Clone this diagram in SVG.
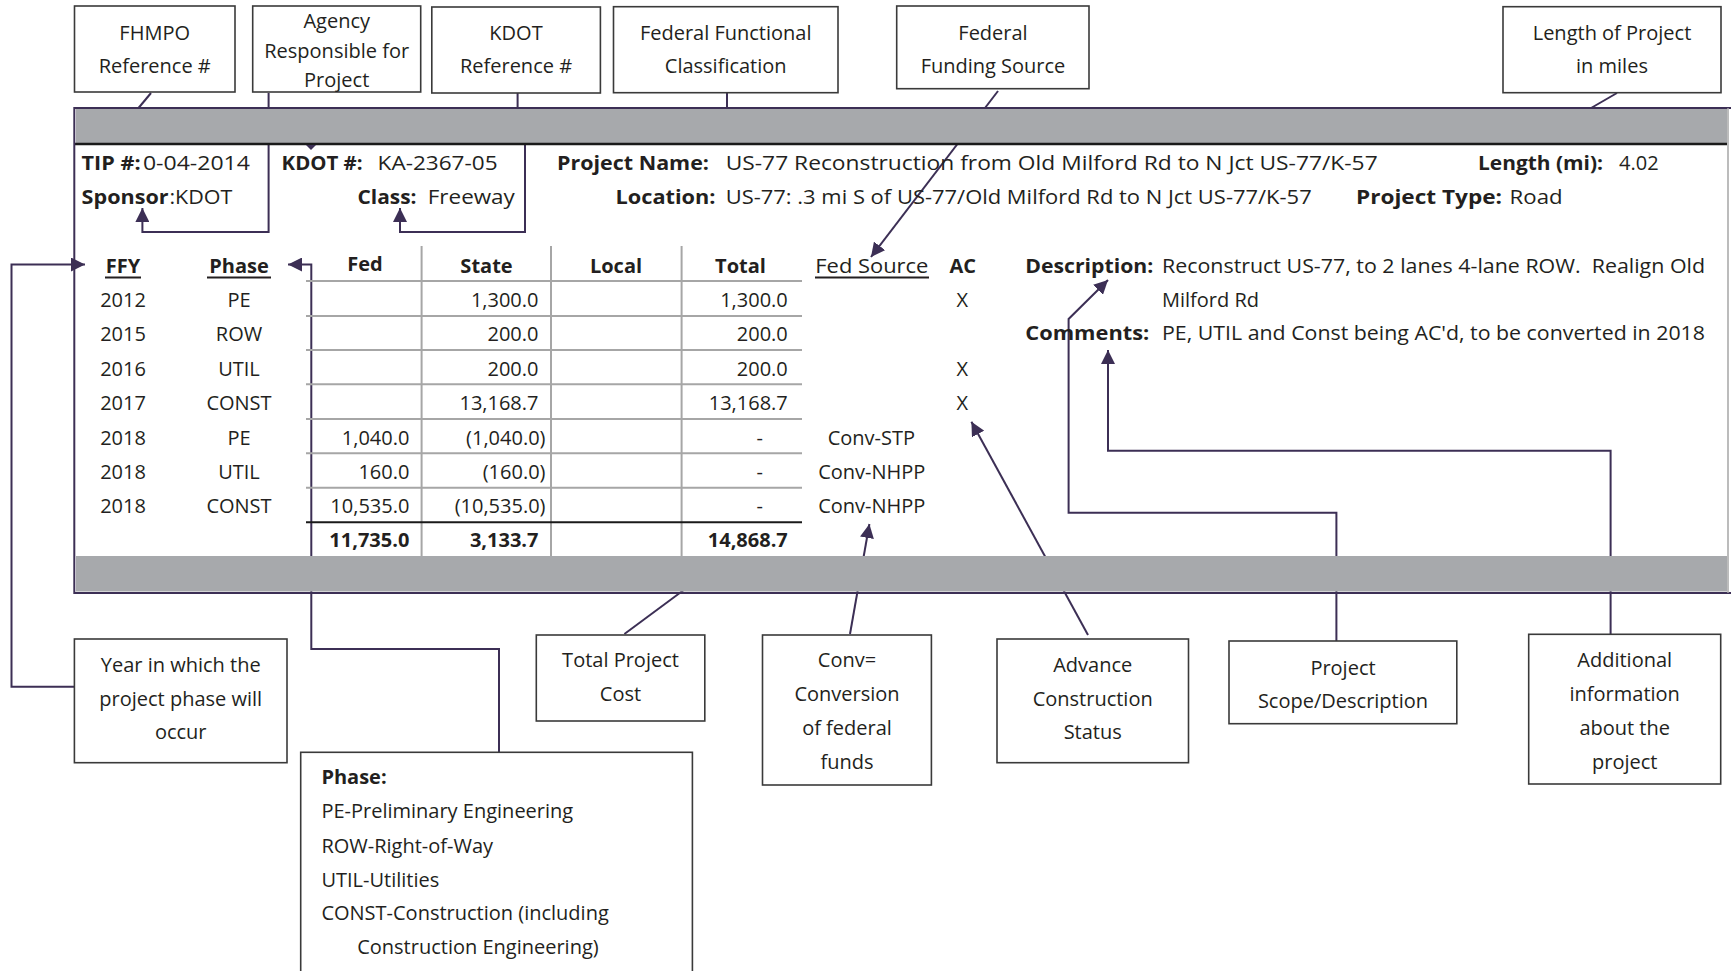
<svg xmlns="http://www.w3.org/2000/svg" width="1731" height="971" viewBox="0 0 1731 971">
<defs>
<style>
text{font-family:"Open Sans","Noto Sans","Liberation Sans",sans-serif;font-size:20px;fill:#231f20}
.b{font-weight:700}
.c{text-anchor:middle}
.r{text-anchor:end}
.box{fill:#fff;stroke:#3a3a3a;stroke-width:1.6}
.con{fill:none;stroke:#3c2f55;stroke-width:2}
.grid{stroke:#a6a6a6;stroke-width:2}
.ul{stroke:#231f20;stroke-width:2}
</style>
<marker id="arr" viewBox="0 0 12 12" refX="12" refY="6" markerWidth="14" markerHeight="14" markerUnits="userSpaceOnUse" orient="auto">
<path d="M0,0 L12,6 L0,12 z" fill="#3c2f55"/>
</marker>
</defs>
<rect width="1731" height="971" fill="#fff"/>

<g id="frame">
<rect x="74.3" y="108" width="1653.7" height="485" fill="#fff"/>
</g>

<g id="connectors">
<path class="con" d="M151,93 L136,111"/>
<path class="con" d="M268.6,93 V232 H142.4 V208" marker-end="url(#arr)"/>
<path class="con" d="M517.6,93 V126 H525 V232 H400 V208" marker-end="url(#arr)"/>
<path class="con" d="M727,93 V126"/>
<path class="con" d="M998,91 L871,257" marker-end="url(#arr)"/>
<path class="con" d="M1617,93 L1560,126"/>
<path class="con" d="M74.4,686.7 H11.5 V264.5 H85" marker-end="url(#arr)"/>
<path class="con" d="M499,752 V649 H311.3 V264.5 H288" marker-end="url(#arr)"/>
<path class="con" d="M624.4,634 L700,578"/>
<path class="con" d="M850,634 L869.4,524" marker-end="url(#arr)"/>
<path class="con" d="M1088,635 L971.4,421.7" marker-end="url(#arr)"/>
<path class="con" d="M1336.4,641 V512.7 H1068.6 V319 L1108,280" marker-end="url(#arr)"/>
<path class="con" d="M1610.6,634 V450.7 H1108 V350" marker-end="url(#arr)"/>
</g>

<g id="bands">
<rect x="76" y="109" width="1651" height="34" fill="#a7a9ac"/>
<rect x="76" y="556" width="1651" height="35.5" fill="#a7a9ac"/>
<line x1="75" y1="144" x2="1727" y2="144" stroke="#1a1a1a" stroke-width="2.5"/>
<line x1="74.3" y1="108" x2="1731" y2="108" stroke="#3c2f55" stroke-width="2"/>
<line x1="74.3" y1="593" x2="1731" y2="593" stroke="#3c2f55" stroke-width="2"/>
<line x1="74.3" y1="107" x2="74.3" y2="594" stroke="#3c2f55" stroke-width="2"/>
<line x1="1728" y1="108" x2="1728" y2="593" stroke="#a6a6a6" stroke-width="1.5"/>
<polygon points="306,145 316,145 311,150" fill="#3c2f55"/>
</g>

<g id="header">
<text class="b" x="81.6" y="170" textLength="59" lengthAdjust="spacingAndGlyphs">TIP #:</text>
<text x="142.9" y="170" textLength="107" lengthAdjust="spacingAndGlyphs">0-04-2014</text>
<text class="b" x="81.6" y="204" textLength="87" lengthAdjust="spacingAndGlyphs">Sponsor</text>
<text x="169.4" y="204" textLength="63" lengthAdjust="spacingAndGlyphs">:KDOT</text>
<text class="b" x="281.6" y="170" textLength="81" lengthAdjust="spacingAndGlyphs">KDOT #:</text>
<text x="377.6" y="170" textLength="120" lengthAdjust="spacingAndGlyphs">KA-2367-05</text>
<text class="b" x="357.5" y="204" textLength="59" lengthAdjust="spacingAndGlyphs">Class:</text>
<text x="427.8" y="204" textLength="87" lengthAdjust="spacingAndGlyphs">Freeway</text>
<text class="b" x="557" y="170" textLength="152" lengthAdjust="spacingAndGlyphs">Project Name:</text>
<text x="725.7" y="170" textLength="652" lengthAdjust="spacingAndGlyphs">US-77 Reconstruction from Old Milford Rd to N Jct US-77/K-57</text>
<text class="b" x="615.5" y="204" textLength="100" lengthAdjust="spacingAndGlyphs">Location:</text>
<text x="725.7" y="204" textLength="586" lengthAdjust="spacingAndGlyphs">US-77: .3 mi S of US-77/Old Milford Rd to N Jct US-77/K-57</text>
<text class="b" x="1478" y="170" textLength="125" lengthAdjust="spacingAndGlyphs">Length (mi):</text>
<text x="1619" y="170">4.02</text>
<text class="b" x="1356" y="204" textLength="146" lengthAdjust="spacingAndGlyphs">Project Type:</text>
<text x="1509.6" y="204" textLength="53" lengthAdjust="spacingAndGlyphs">Road</text>
</g>

<g id="table">
<line class="grid" x1="421.6" y1="246" x2="421.6" y2="556"/>
<line class="grid" x1="551" y1="246" x2="551" y2="556"/>
<line class="grid" x1="681.6" y1="246" x2="681.6" y2="556"/>
<line class="grid" x1="306" y1="281" x2="802" y2="281"/>
<line class="grid" x1="306" y1="316" x2="802" y2="316"/>
<line class="grid" x1="306" y1="350" x2="802" y2="350"/>
<line class="grid" x1="306" y1="384.3" x2="802" y2="384.3"/>
<line class="grid" x1="306" y1="419" x2="802" y2="419"/>
<line class="grid" x1="306" y1="453.3" x2="802" y2="453.3"/>
<line class="grid" x1="306" y1="487.7" x2="802" y2="487.7"/>
<line x1="306" y1="522.3" x2="802" y2="522.3" stroke="#1a1a1a" stroke-width="2"/>

<text class="b c" x="123" y="273">FFY</text>
<line class="ul" x1="105" y1="277.5" x2="141" y2="277.5"/>
<text class="b c" x="239" y="273">Phase</text>
<line class="ul" x1="207" y1="277.5" x2="271" y2="277.5"/>
<text class="b c" x="365" y="271">Fed</text>
<text class="b c" x="486.5" y="273">State</text>
<text class="b c" x="616" y="273">Local</text>
<text class="b c" x="740.5" y="273">Total</text>
<text class="c" x="871.8" y="273" textLength="113" lengthAdjust="spacingAndGlyphs">Fed Source</text>
<line class="ul" x1="815" y1="277.5" x2="929" y2="277.5"/>
<text class="b c" x="962.7" y="273">AC</text>

<text class="c" x="123" y="307">2012</text><text class="c" x="239" y="307">PE</text>
<text class="c" x="123" y="341">2015</text><text class="c" x="239" y="341">ROW</text>
<text class="c" x="123" y="375.5">2016</text><text class="c" x="239" y="375.5">UTIL</text>
<text class="c" x="123" y="410">2017</text><text class="c" x="239" y="410">CONST</text>
<text class="c" x="123" y="444.5">2018</text><text class="c" x="239" y="444.5">PE</text>
<text class="c" x="123" y="478.5">2018</text><text class="c" x="239" y="478.5">UTIL</text>
<text class="c" x="123" y="513">2018</text><text class="c" x="239" y="513">CONST</text>

<text class="r" x="538.5" y="307">1,300.0</text><text class="r" x="787.8" y="307">1,300.0</text><text class="c" x="962.4" y="307">X</text>
<text class="r" x="538.5" y="341">200.0</text><text class="r" x="787.8" y="341">200.0</text>
<text class="r" x="538.5" y="375.5">200.0</text><text class="r" x="787.8" y="375.5">200.0</text><text class="c" x="962.4" y="375.5">X</text>
<text class="r" x="538.5" y="410">13,168.7</text><text class="r" x="787.8" y="410">13,168.7</text><text class="c" x="962.4" y="410">X</text>
<text class="r" x="409.4" y="444.5">1,040.0</text><text class="r" x="545.5" y="444.5">(1,040.0)</text><text class="r" x="763" y="444.5">-</text><text class="c" x="871.4" y="444.5">Conv-STP</text>
<text class="r" x="409.4" y="478.5">160.0</text><text class="r" x="545.5" y="478.5">(160.0)</text><text class="r" x="763" y="478.5">-</text><text class="c" x="871.8" y="478.5">Conv-NHPP</text>
<text class="r" x="409.4" y="513">10,535.0</text><text class="r" x="545.5" y="513">(10,535.0)</text><text class="r" x="763" y="513">-</text><text class="c" x="871.8" y="513">Conv-NHPP</text>
<text class="b r" x="409.4" y="547">11,735.0</text><text class="b r" x="538.5" y="547">3,133.7</text><text class="b r" x="787.8" y="547">14,868.7</text>

<text class="b" x="1025.3" y="273" textLength="128" lengthAdjust="spacingAndGlyphs">Description:</text>
<text x="1162" y="273" textLength="543" lengthAdjust="spacingAndGlyphs">Reconstruct US-77, to 2 lanes 4-lane ROW.&#160; Realign Old</text>
<text x="1162" y="307">Milford Rd</text>
<text class="b" x="1025.3" y="340" textLength="124" lengthAdjust="spacingAndGlyphs">Comments:</text>
<text x="1162" y="340" textLength="543" lengthAdjust="spacingAndGlyphs">PE, UTIL and Const being AC'd, to be converted in 2018</text>
</g>

<g id="node-fhmpo"><rect class="box" x="74.5" y="6" width="160.5" height="86"/>
<text class="c" x="154.7" y="40">FHMPO</text><text class="c" x="154.7" y="73">Reference #</text></g>
<g id="node-agency"><rect class="box" x="252.7" y="6" width="168" height="86"/>
<text class="c" x="336.7" y="28">Agency</text><text class="c" x="336.7" y="58">Responsible for</text><text class="c" x="336.7" y="86.5">Project</text></g>
<g id="node-kdot"><rect class="box" x="431.8" y="7" width="168.6" height="86"/>
<text class="c" x="516" y="40">KDOT</text><text class="c" x="516" y="73">Reference #</text></g>
<g id="node-ffc"><rect class="box" x="613.5" y="6.7" width="224.5" height="86"/>
<text class="c" x="725.7" y="40">Federal Functional</text><text class="c" x="725.7" y="73">Classification</text></g>
<g id="node-ffs"><rect class="box" x="896.7" y="6" width="192.3" height="82.7"/>
<text class="c" x="993" y="40">Federal</text><text class="c" x="993" y="73">Funding Source</text></g>
<g id="node-length"><rect class="box" x="1503" y="6.7" width="218" height="86"/>
<text class="c" x="1612" y="40">Length of Project</text><text class="c" x="1612" y="73">in miles</text></g>

<g id="node-year"><rect class="box" x="74.4" y="639" width="212.6" height="123.7"/>
<text class="c" x="180.7" y="671.6">Year in which the</text><text class="c" x="180.7" y="705.8">project phase will</text><text class="c" x="180.7" y="739">occur</text></g>
<g id="node-phase"><rect class="box" x="300.7" y="752.3" width="391.7" height="240"/>
<text class="b" x="321.4" y="784">Phase:</text>
<text x="321.4" y="818">PE-Preliminary Engineering</text>
<text x="321.4" y="852.7">ROW-Right-of-Way</text>
<text x="321.4" y="887">UTIL-Utilities</text>
<text x="321.4" y="920">CONST-Construction (including</text>
<text x="357.2" y="954">Construction Engineering)</text></g>
<g id="node-total"><rect class="box" x="536.3" y="635" width="168.5" height="86"/>
<text class="c" x="620.5" y="667">Total Project</text><text class="c" x="620.5" y="701.4">Cost</text></g>
<g id="node-conv"><rect class="box" x="762.5" y="635" width="168.9" height="150"/>
<text class="c" x="847" y="667">Conv=</text><text class="c" x="847" y="701.4">Conversion</text><text class="c" x="847" y="734.5">of federal</text><text class="c" x="847" y="768.8">funds</text></g>
<g id="node-ac"><rect class="box" x="997" y="639" width="191.5" height="123.7"/>
<text class="c" x="1092.7" y="671.6">Advance</text><text class="c" x="1092.7" y="705.8">Construction</text><text class="c" x="1092.7" y="739">Status</text></g>
<g id="node-scope"><rect class="box" x="1229" y="641" width="227.8" height="82.7"/>
<text class="c" x="1343" y="675">Project</text><text class="c" x="1343" y="708">Scope/Description</text></g>
<g id="node-additional"><rect class="box" x="1528.7" y="634.3" width="192" height="149.7"/>
<text class="c" x="1624.7" y="667">Additional</text><text class="c" x="1624.7" y="701.4">information</text><text class="c" x="1624.7" y="734.5">about the</text><text class="c" x="1624.7" y="768.8">project</text></g>
</svg>
